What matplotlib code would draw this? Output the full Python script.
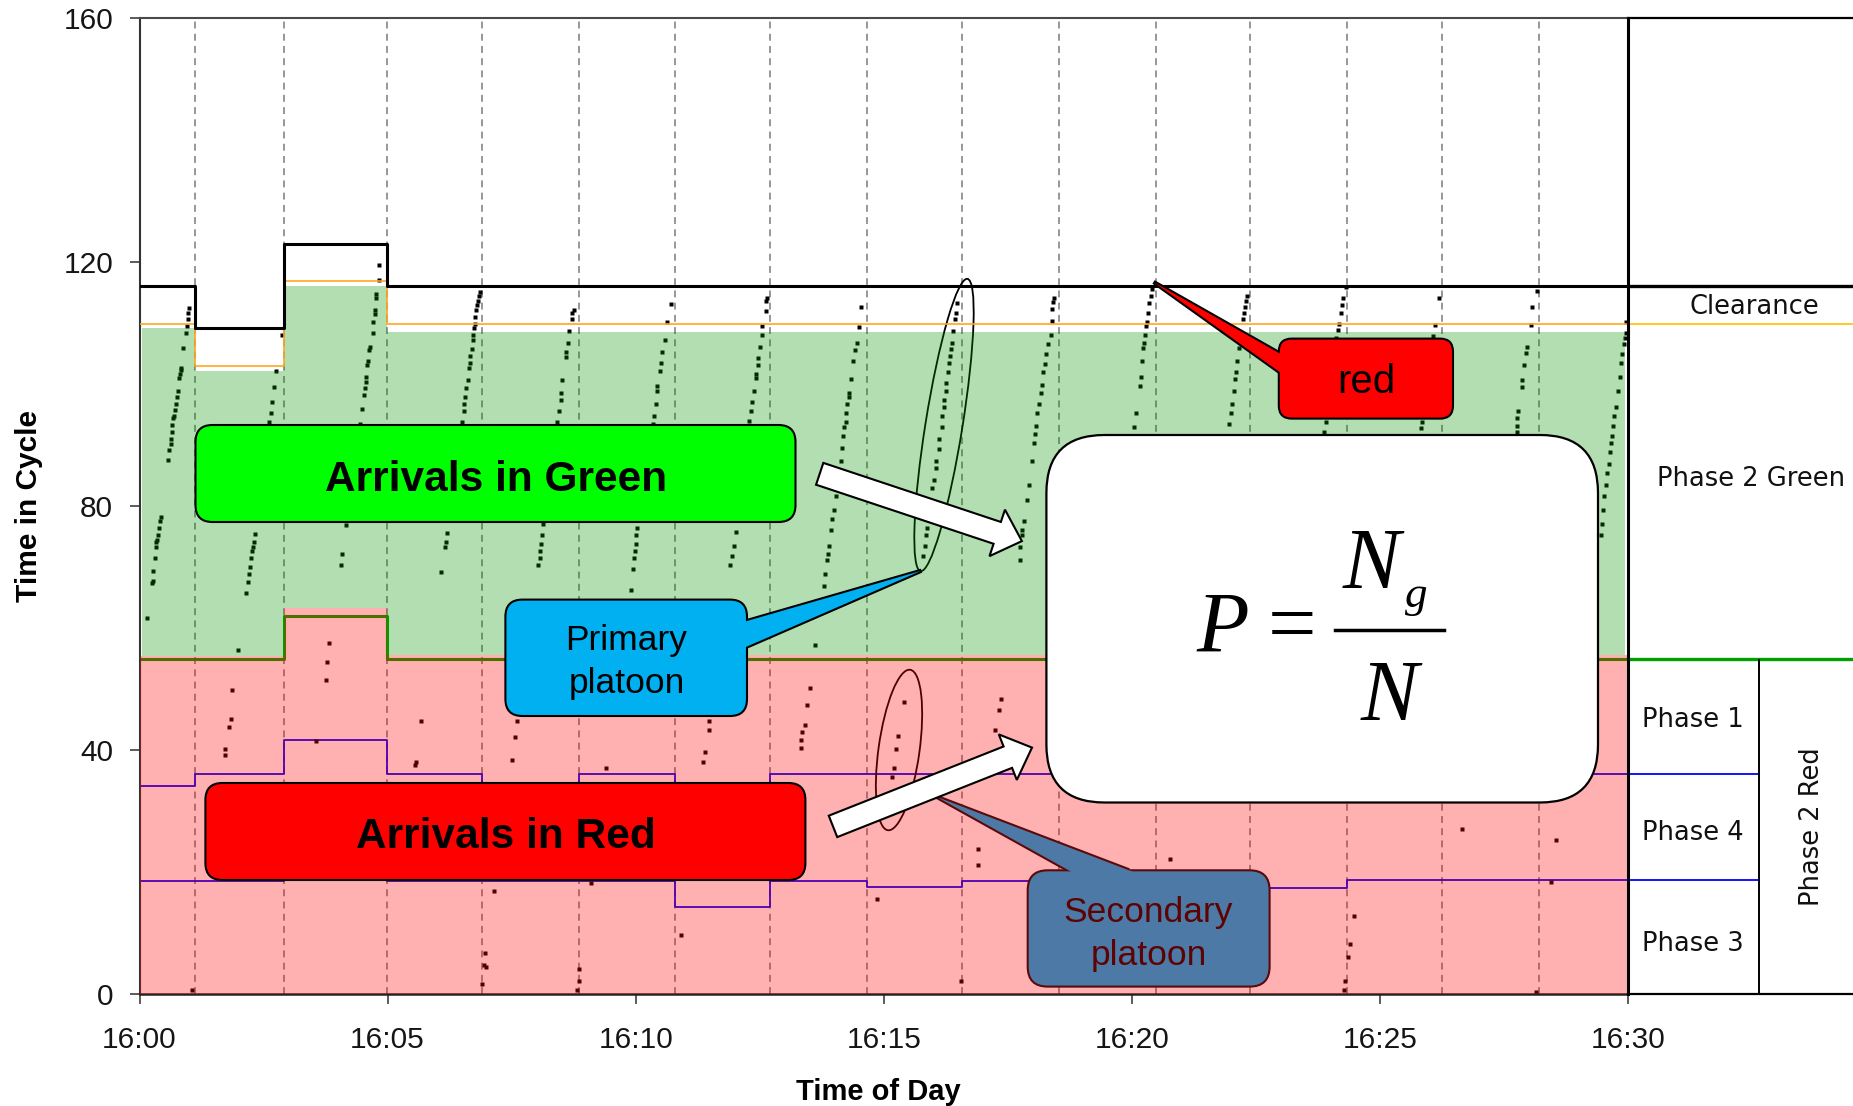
import matplotlib
matplotlib.use("Agg")
import matplotlib.pyplot as plt
from matplotlib import patches, transforms
from matplotlib.lines import Line2D

W, H, DPI = 1853, 1106, 100
plt.rcParams['font.family'] = ['Liberation Sans', 'DejaVu Sans']

# ---------------------------------------------------------------------------
# Signal timing, one entry per cycle.  Cycle starts are minutes after 16:00
# (the first cycle began before 16:00); the rest are seconds into the cycle.
# ---------------------------------------------------------------------------
cycle_start = [-0.81, 1.12, 2.92, 4.98, 6.90, 8.86, 10.80, 12.71,
               14.67, 16.58, 18.53, 20.48, 22.38, 24.34, 26.25, 28.20]
cycle_length = [116.1, 109.1, 123.0, 116.1, 116.1, 116.1, 116.1, 116.1,
                116.1, 116.1, 116.1, 116.1, 116.1, 116.1, 116.1, 116.1]
yellow_start = [109.8, 102.9, 116.9, 109.8, 109.8, 109.8, 109.8, 109.8,
                109.8, 109.8, 109.8, 109.8, 109.8, 109.8, 109.8, 109.8]
green_shade_end = [109.1, 102.1, 116.1, 108.6, 108.6, 108.6, 108.6, 108.6,
                   108.6, 108.6, 108.6, 108.6, 108.6, 108.6, 108.6, 108.6]
green_start = [55.0, 55.0, 61.9, 55.0, 55.0, 55.0, 55.0, 55.0,
               55.0, 55.0, 55.0, 55.0, 55.0, 55.0, 55.0, 55.0]
red_shade_end = [55.4, 55.4, 63.2, 55.6, 55.6, 55.6, 55.6, 55.6,
                 55.6, 55.6, 55.6, 55.6, 55.6, 55.6, 55.6, 55.6]
phase1_start = [34.1, 36.0, 41.6, 36.0, 33.0, 36.0, 33.5, 36.0,
                36.0, 36.0, 36.0, 36.0, 36.0, 36.0, 36.0, 36.0]
phase4_start = [18.6, 18.6, 22.0, 18.6, 18.6, 18.6, 14.3, 18.6,
                17.5, 18.6, 18.6, 18.6, 17.3, 18.7, 18.7, 18.7]

# Vehicle arrivals: arrival time (minutes after 16:00) and time in cycle (s)
arrival_min = [
    0.998, 0.984, 0.984, 0.964, 0.930, 0.883, 0.843, 0.830, 0.810, 0.796, 0.776, 0.763,
    0.729, 0.716, 0.695, 0.682, 0.662, 0.648, 0.635, 0.628, 0.595, 0.581, 0.427, 0.413,
    0.393, 0.373, 0.360, 0.339, 0.326, 0.312, 0.272, 0.272, 0.259, 0.158,
    1.065, 1.723, 1.723, 1.804, 1.837, 1.871, 1.992, 2.140, 2.180, 2.207, 2.227, 2.254,
    2.274, 2.294, 2.308, 2.328, 2.610, 2.644, 2.677, 2.711, 2.744, 2.879,
    3.550, 3.752, 3.786, 3.819, 4.054, 4.088, 4.168, 4.437, 4.477, 4.524, 4.545, 4.558,
    4.558, 4.592, 4.612, 4.625, 4.645, 4.713, 4.706, 4.746, 4.746, 4.760, 4.773, 4.819, 4.837,
    5.545, 5.565, 5.666, 6.083, 6.157, 6.170, 6.204, 6.506, 6.540, 6.540, 6.560, 6.587,
    6.613, 6.640, 6.660, 6.660, 6.694, 6.728, 6.728, 6.741, 6.761, 6.761, 6.788, 6.808,
    6.828, 6.842, 6.855,
    6.895, 6.943, 6.963, 6.976, 7.144, 7.500, 7.567, 7.614, 8.037, 8.064, 8.071, 8.098,
    8.118, 8.132, 8.420, 8.454, 8.488, 8.488, 8.521, 8.602, 8.602, 8.629, 8.656, 8.709,
    8.723, 8.756,
    8.824, 8.857, 8.867, 9.092, 9.408, 9.912, 9.952, 9.966, 9.986, 9.999, 10.013, 10.033,
    10.348, 10.368, 10.402, 10.436, 10.436, 10.483, 10.503, 10.536, 10.590, 10.637, 10.704,
    10.906, 11.356, 11.396, 11.477, 11.477, 11.893, 11.934, 11.980, 12.014, 12.283, 12.317,
    12.350, 12.390, 12.417, 12.431, 12.464, 12.471, 12.498, 12.538, 12.552, 12.619, 12.619,
    12.652,
    13.338, 13.338, 13.358, 13.405, 13.458, 13.505, 13.613, 13.794, 13.808, 13.862, 13.875,
    13.895, 13.929, 13.962, 13.996, 14.043, 14.097, 14.130, 14.150, 14.177, 14.197, 14.231,
    14.231, 14.265, 14.298, 14.298, 14.339, 14.379, 14.419, 14.466, 14.500, 14.533,
    14.869, 15.172, 15.206, 15.253, 15.293, 15.407, 15.790, 15.830, 15.857, 15.877, 15.911,
    15.965, 16.012, 16.045, 16.059, 16.112, 16.112, 16.166, 16.180, 16.213, 16.213, 16.247,
    16.260, 16.301, 16.314, 16.328, 16.348, 16.368, 16.395, 16.435, 16.448, 16.482,
    16.549, 16.905, 16.905, 17.241, 17.322, 17.355, 17.745, 17.738, 17.779, 17.792, 17.826,
    17.893, 17.926, 17.994, 18.027, 18.047, 18.061, 18.094, 18.128, 18.162, 18.195, 18.208,
    18.249, 18.276, 18.316, 18.363, 18.397, 18.383, 18.410, 18.430,
    20.043, 20.076, 20.156, 20.177, 20.210, 20.224, 20.244, 20.264, 20.277, 20.311, 20.331,
    20.345, 20.378, 20.398,
    20.761, 21.957, 21.990, 22.024, 22.058, 22.078, 22.091, 22.125, 22.158, 22.192, 22.239,
    22.259, 22.279, 22.306, 22.326,
    23.871, 23.905, 24.107, 24.147, 24.174, 24.207, 24.227, 24.254, 24.308,
    24.280, 24.300, 24.362, 24.389, 24.476, 25.819, 25.839, 26.068, 26.108, 26.189,
    26.645, 27.754, 27.767, 27.767, 27.787, 27.868, 27.868, 27.902, 27.935, 27.969, 28.036,
    28.070, 28.170,
    28.137, 28.440, 28.553, 29.447, 29.467, 29.494, 29.514, 29.548, 29.581, 29.615, 29.629,
    29.649, 29.669, 29.696, 29.716, 29.763, 29.803, 29.830, 29.850, 29.884, 29.917, 29.937,
    29.950, 29.964,
]
arrival_sec = [
    112.5, 111.6, 110.6, 109.5, 108.3, 105.9, 102.7, 102.3, 101.6, 101.0, 98.9, 97.8,
    96.7, 95.7, 94.8, 94.4, 93.3, 92.2, 91.0, 90.1, 89.1, 87.5, 78.2, 77.5,
    76.4, 75.2, 74.5, 74.1, 73.3, 71.5, 69.4, 67.7, 67.3, 61.7,
    0.7, 39.2, 40.1, 43.8, 45.1, 49.8, 56.4, 65.7, 67.5, 68.8, 70.0, 71.5,
    72.6, 73.3, 74.1, 75.4, 93.8, 95.2, 97.1, 99.5, 102.1, 108.0,
    41.4, 51.4, 54.5, 57.5, 70.3, 72.2, 76.9, 93.5, 95.9, 98.2, 99.3, 100.4,
    101.2, 103.1, 103.8, 105.6, 106.1, 108.3, 110.1, 111.4, 112.1, 114.1, 114.7, 117.1, 119.5,
    37.6, 38.0, 44.7, 69.2, 73.2, 74.1, 75.5, 93.7, 95.5, 96.7, 97.8, 99.3,
    100.6, 102.7, 103.5, 104.6, 105.7, 107.2, 108.1, 109.1, 109.8, 111.0, 112.1, 112.9,
    113.6, 114.4, 115.1,
    1.6, 4.8, 6.7, 4.5, 16.9, 38.3, 42.1, 44.7, 70.3, 71.5, 72.6, 73.7,
    75.2, 77.1, 93.7, 95.5, 97.3, 98.6, 100.6, 104.4, 105.3, 106.8, 108.7, 110.6,
    111.7, 112.1,
    0.7, 2.2, 4.1, 18.2, 37.1, 66.2, 69.6, 71.5, 72.6, 73.7, 75.2, 76.4,
    93.5, 94.8, 96.7, 98.9, 99.7, 102.1, 103.5, 105.3, 107.2, 110.2, 113.1,
    9.7, 38.0, 39.6, 43.2, 44.7, 70.3, 71.8, 73.5, 75.8, 94.0, 95.5,
    97.1, 98.9, 101.0, 101.6, 103.1, 104.2, 106.1, 108.1, 109.5, 111.9, 113.6,
    114.1,
    40.4, 41.7, 42.9, 44.1, 47.4, 50.2, 57.2, 66.9, 68.8, 71.1, 72.2,
    73.5, 76.0, 77.9, 79.4, 81.6, 84.6, 87.3, 89.5, 91.4, 92.9, 93.8,
    95.2, 96.8, 97.8, 98.6, 100.8, 103.8, 105.6, 106.8, 109.3, 112.6,
    15.5, 35.6, 37.1, 40.1, 42.3, 47.8, 71.8, 73.5, 75.2, 76.4, 78.6,
    83.0, 84.3, 86.3, 87.3, 89.3, 91.0, 92.9, 94.8, 96.3, 97.4, 98.9,
    100.1, 101.9, 103.5, 104.6, 105.7, 106.8, 108.7, 110.6, 111.7, 113.2,
    2.2, 21.2, 23.7, 43.2, 46.6, 48.4, 71.2, 73.3, 75.2, 76.0, 77.5,
    81.0, 83.5, 87.3, 90.3, 91.8, 93.1, 95.2, 96.7, 98.6, 99.8, 101.9,
    103.3, 105.0, 106.5, 108.1, 110.4, 112.3, 113.4, 114.1,
    92.9, 95.3, 99.7, 101.2, 103.8, 105.9, 106.8, 108.1, 109.5, 110.2, 111.6,
    113.2, 114.4, 115.6,
    22.2, 93.5, 95.2, 96.8, 98.9, 100.8, 101.9, 103.8, 105.9, 107.2, 110.6,
    111.6, 112.6, 113.6, 114.4,
    92.2, 93.7, 107.6, 108.9, 109.8, 111.6, 112.9, 114.1, 115.9,
    0.6, 2.2, 6.0, 8.2, 12.8, 92.8, 93.7, 107.8, 109.6, 114.1,
    27.1, 92.2, 93.1, 94.4, 95.5, 99.5, 100.6, 103.1, 105.1, 106.1, 109.6,
    112.6, 115.3,
    0.3, 18.4, 25.2, 75.2, 77.1, 79.4, 81.6, 83.5, 85.4, 86.9, 88.8,
    90.3, 91.4, 93.1, 94.8, 96.3, 98.9, 101.2, 103.5, 105.0, 106.5, 107.6,
    108.3, 110.2,
]

tick_minutes = [0, 5, 10, 15, 20, 25, 30]
tick_labels = ['16:00', '16:05', '16:10', '16:15', '16:20', '16:25', '16:30']
y_ticks = [0, 40, 80, 120, 160]

# ---------------------------------------------------------------------------
fig = plt.figure(figsize=(W / DPI, H / DPI), dpi=DPI)
fig.patch.set_facecolor('white')

LEFT, RIGHT, TOP, BOTTOM = 139.5, 1628.0, 18.0, 994.0
ax = fig.add_axes([LEFT / W, 1 - BOTTOM / H, (RIGHT - LEFT) / W, (BOTTOM - TOP) / H])
ax.set_xlim(0, 30)
ax.set_ylim(0, 160)

# pixel-space transform (x right, y down) for the illustration layer
px = transforms.Affine2D().scale(1 / W, -1 / H).translate(0, 1) + fig.transFigure

edges = [0.0] + cycle_start[1:] + [30.0]
shade_edges = [0.06] + cycle_start[1:] + [29.94]


def steps(vals):
    return list(vals) + [vals[-1]]


# cycle boundaries
for t in cycle_start[1:]:
    ax.axvline(t, color='#7a7a7a', lw=1.1, ls=(0, (4.5, 3.5)), zorder=1)

# phase boundaries that sit under the shading
ax.plot(edges, steps(phase1_start), drawstyle='steps-post', color='#0000ff', lw=1.3, zorder=1.5)
ax.plot(edges, steps(phase4_start), drawstyle='steps-post', color='#0000ff', lw=1.3, zorder=1.5)
ax.plot(edges, steps(green_start), drawstyle='steps-post', color='#00a000', lw=2.2, zorder=1.5)

# arrivals
ax.plot(arrival_min, arrival_sec, ls='none', marker='s', ms=3.2, mfc='black', mec='none', zorder=2)

# platoon ellipses (under the shading)
ell_kw = dict(fill=False, ec='black', lw=1.3, transform=px, clip_on=False, zorder=2.2)
ax.add_patch(patches.Ellipse((944, 425), 296, 37, angle=-80.9, **ell_kw))
ax.add_patch(patches.Ellipse((899, 750), 162, 41, angle=-82.1, **ell_kw))

# green / red shading
ax.fill_between(shade_edges, steps(red_shade_end), steps(green_shade_end), step='post',
                facecolor=(0, 0.58, 0), alpha=0.30, lw=0, zorder=3)
ax.fill_between(edges, 0, steps(red_shade_end), step='post',
                facecolor=(1, 0, 0), alpha=0.31, lw=0, zorder=3)

# yellow start and cycle length
ax.plot(edges, steps(yellow_start), drawstyle='steps-post', color='#ffa51f', lw=1.2, zorder=4)
ax.plot(edges, steps(cycle_length), drawstyle='steps-post', color='black', lw=2.2, zorder=4)

# axes styling
ax.set_xticks(tick_minutes, tick_labels)
ax.set_yticks(y_ticks)
ax.tick_params(axis='both', direction='out', length=7, width=1.2, color='#404040',
               labelsize=21.5, labelcolor='#151515')
ax.tick_params(axis='x', pad=16)
ax.tick_params(axis='y', pad=12)
ax.spines['right'].set_visible(False)
ax.spines['top'].set(color='#4a4a4a', lw=1.5)
ax.spines['left'].set(color='#333333', lw=1.5)
ax.spines['bottom'].set(color='#222222', lw=1.8)

ax.set_xlabel('Time of Day', fontsize=21, fontweight='bold')
ax.xaxis.set_label_coords(0.4966, (BOTTOM - 1099.5) / (BOTTOM - TOP))
ax.xaxis.label.set_va('baseline')
ax.set_ylabel('Time in Cycle', fontsize=21.5, fontweight='bold')
ax.yaxis.set_label_coords((29.5 - LEFT) / (RIGHT - LEFT), 0.5)
ax.yaxis.label.set_va('center')

# ---------------------------------------------------------------------------
# illustration layer (pixel coordinates)
# ---------------------------------------------------------------------------
def rbox(x0, y0, x1, y1, r, fc, ec='black', lw=1.5, z=6):
    p = patches.FancyBboxPatch((x0, y0), x1 - x0, y1 - y0,
                               boxstyle=f"round,pad=0,rounding_size={r}",
                               fc=fc, ec=ec, lw=lw, transform=px, clip_on=False, zorder=z)
    ax.add_patch(p)


def callout(x0, y0, x1, y1, r, fc, ptr, ec='black', lw=1.5, z=6):
    b1, tip, b2 = ptr
    outer = patches.Polygon([b1, tip, b2], closed=True, fc=fc, ec=ec, lw=lw * 2,
                            joinstyle='miter', transform=px, clip_on=False, zorder=z)
    ax.add_patch(outer)
    rbox(x0, y0, x1, y1, r, fc, ec, lw, z + 0.1)

    def ext(b):
        dx, dy = b[0] - tip[0], b[1] - tip[1]
        n = (dx * dx + dy * dy) ** 0.5
        return (b[0] + dx / n * 5, b[1] + dy / n * 5)

    inner = patches.Polygon([ext(b1), tip, ext(b2)], closed=True, fc=fc, ec='none',
                            transform=px, clip_on=False, zorder=z + 0.2)
    ax.add_patch(inner)


def label(x, y, s, size, color='black', weight='normal', family=None, style='normal',
          ha='center', z=8):
    kw = dict(transform=px, fontsize=size, color=color, fontweight=weight, style=style,
              ha=ha, va='baseline', zorder=z)
    if family:
        kw['family'] = family
    ax.text(x, y, s, **kw)


# arrivals labels
rbox(195.5, 425, 795.5, 522, 17, '#00ff00')
label(496, 491, 'Arrivals in Green', 30.5, weight='bold')
rbox(205.4, 783, 805.4, 880, 17, '#ff0000')
label(506, 847.6, 'Arrivals in Red', 30.5, weight='bold')

# platoon callouts
callout(505.4, 599.6, 747, 716, 17, '#00b0f0', [(747, 621), (921.4, 570.7), (747, 646.5)])
label(626.5, 650, 'Primary', 25.5)
label(626.5, 693.4, 'platoon', 25.5)

callout(1027.7, 870.3, 1269.6, 986.6, 20, '#4d79a6', [(1068.7, 870.3), (937, 797), (1129, 870.3)],
        ec='#5a0a0a')
label(1148.5, 921.6, 'Secondary', 25.5, color='#5c0404')
label(1148.5, 965, 'platoon', 25.5, color='#5c0404')

callout(1278.8, 338.6, 1453, 418.6, 13, '#ff0000', [(1278.8, 353), (1153.6, 282), (1278.8, 371.4)])
label(1366.5, 392.9, 'red', 29)

# block arrows
arrow_kw = dict(width=23, head_width=49, head_length=26, length_includes_head=True,
                fc='white', ec='black', lw=1.5, transform=px, clip_on=False, zorder=7)
ax.add_patch(patches.FancyArrow(819.7, 473.8, 1021.9 - 819.7, 541.1 - 473.8, **arrow_kw))
ax.add_patch(patches.FancyArrow(833.0, 826.4, 1032.0 - 833.0, 747.6 - 826.4, **arrow_kw))

# formula box
rbox(1046.4, 435, 1598, 802.5, 58, 'white', lw=1.6, z=6)
serif = 'Liberation Serif'
label(1196, 652, 'P', 62, family=serif, style='italic', ha='left')
label(1292, 652, '=', 62, family=serif)
ax.add_line(Line2D([1335, 1444], [630, 630], color='black', lw=2.5, transform=px, zorder=8))
label(1371, 588, 'N', 62, family=serif, style='italic')
label(1416.5, 607.5, 'g', 32.5, family=serif, style='italic')
label(1389, 720.5, 'N', 62, family=serif, style='italic')

# ---------------------------------------------------------------------------
# phase legend panel on the right
# ---------------------------------------------------------------------------
rp = fig.add_axes([RIGHT / W, 1 - BOTTOM / H, (W - RIGHT) / W, (BOTTOM - TOP) / H])
rp.set_xlim(0, 1)
rp.set_ylim(0, 160)
rp.set_xticks([])
rp.set_yticks([])
rp.spines['right'].set_visible(False)
rp.spines['left'].set(color='black', lw=2.2)
rp.spines['top'].set(color='black', lw=1.6)
rp.spines['bottom'].set(color='black', lw=1.6)

divider = 0.58
rp.axhline(cycle_length[-1], color='black', lw=2.4)
rp.axhline(yellow_start[-1], color='#ffc000', lw=1.2)
rp.axhline(green_start[-1], color='#00a000', lw=2.4)
rp.hlines([phase1_start[-1], phase4_start[-1]], 0, divider, color='#0000ff', lw=1.3)
rp.vlines(divider, 0, green_start[-1], color='black', lw=1.4)

pfam = ['DejaVu Sans']
pfont = dict(family=pfam, fontsize=18.5, color='#111111', va='baseline', ha='center')
rp.text(0.562, 111.4, 'Clearance', **pfont)
rp.text(0.545, 83.3, 'Phase 2 Green', **pfont)
rp.text(0.287, 43.7, 'Phase 1', **pfont)
rp.text(0.29, 25.3, 'Phase 4', **pfont)
rp.text(0.29, 7.1, 'Phase 3', **pfont)
rp.text(0.818, 27.5, 'Phase 2 Red', family=pfam, fontsize=18.5, color='#111111',
        rotation=90, ha='center', va='center')

fig.savefig('out.png', dpi=DPI, facecolor='white')
